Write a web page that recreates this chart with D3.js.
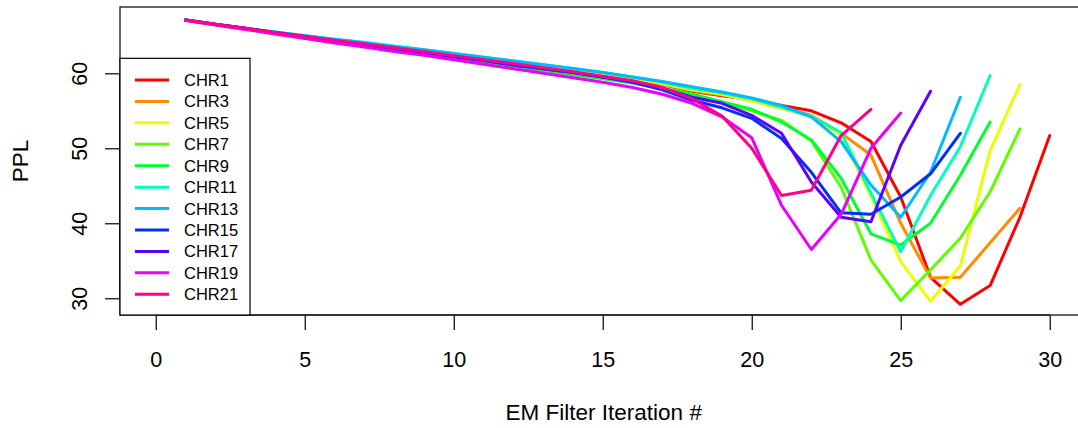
<!DOCTYPE html>
<html>
<head>
<meta charset="utf-8">
<script src="https://cdn.jsdelivr.net/npm/d3@7"></script>
<style>
  html, body { margin: 0; padding: 0; background: #fff; }
  svg { display: block; font-family: "Liberation Sans", Arial, Helvetica, sans-serif; }
</style>
</head>
<body>
<svg id="chart" width="1078" height="428"></svg>
<script>
// ---- data ----
const seriesNames = ["CHR1","CHR3","CHR5","CHR7","CHR9","CHR11","CHR13","CHR15","CHR17","CHR19","CHR21"];
const seriesColors = ["#FF0000","#FF8B00","#E8FF00","#5DFF00","#00FF2E","#00FFB9","#00B9FF","#002EFF","#5D00FF","#E800FF","#FF008B"];
// values start at iteration 1
const chr1  = [67.1,66.55,66.0,65.45,64.95,64.45,63.95,63.45,62.95,62.45,61.95,61.45,60.9,60.4,59.85,59.3,58.5,57.6,57.0,56.5,55.7,55.0,53.4,50.9,43.5,32.8,29.2,31.7,40.8,51.7];
const chr3  = [67.1,66.55,66.0,65.45,64.95,64.45,63.95,63.45,62.95,62.45,61.95,61.45,60.9,60.4,59.85,59.3,58.5,57.7,57.1,56.4,55.4,54.4,52.0,49.1,40.0,32.7,32.8,37.4,42.0];
const chr5  = [67.1,66.55,66.0,65.45,64.95,64.45,63.95,63.45,62.95,62.45,61.95,61.45,60.95,60.45,59.9,59.3,58.6,57.8,57.2,56.3,55.3,54.3,51.7,43.6,34.9,29.6,34.3,49.7,58.5];
const chr7  = [67.1,66.5,65.95,65.35,64.75,64.2,63.65,63.1,62.55,62.0,61.45,60.9,60.35,59.8,59.3,58.7,58.0,57.2,56.1,55.0,53.7,51.0,44.8,35.1,29.7,33.8,38.0,44.2,52.6];
const chr9  = [67.1,66.5,65.95,65.35,64.75,64.2,63.65,63.1,62.55,62.0,61.45,60.9,60.35,59.8,59.3,58.7,58.0,57.2,56.2,55.2,53.5,51.1,46.0,38.6,37.1,40.0,46.4,53.5];
const chr11 = [67.1,66.55,66.0,65.5,65.0,64.55,64.1,63.6,63.15,62.65,62.15,61.65,61.15,60.65,60.1,59.5,58.8,58.0,57.4,56.6,55.5,54.2,52.1,44.0,36.2,43.7,50.2,59.7];
const chr13 = [67.1,66.55,66.0,65.5,65.0,64.55,64.1,63.6,63.15,62.65,62.15,61.65,61.15,60.65,60.1,59.5,58.9,58.2,57.5,56.7,55.7,54.2,50.9,45.1,40.8,46.8,56.8];
const chr15 = [67.1,66.5,66.0,65.4,64.9,64.3,63.8,63.3,62.7,62.2,61.7,61.1,60.6,60.1,59.5,58.8,57.8,56.4,55.4,54.0,51.3,46.8,41.4,41.2,43.5,46.6,52.0];
const chr17 = [67.1,66.5,66.0,65.4,64.9,64.3,63.8,63.3,62.7,62.2,61.7,61.1,60.6,60.1,59.5,58.9,58.0,56.8,56.0,54.4,52.0,45.5,40.8,40.2,50.4,57.6];
const chr19 = [67.05,66.45,65.85,65.25,64.65,64.05,63.5,62.9,62.4,61.8,61.2,60.6,60.0,59.4,58.8,58.1,57.2,56.0,54.2,51.4,42.4,36.5,41.2,50.0,54.7];
const chr21 = [67.1,66.55,66.0,65.45,64.9,64.4,63.9,63.4,62.9,62.35,61.8,61.3,60.75,60.2,59.6,59.0,58.1,56.6,54.3,50.0,43.7,44.4,51.7,55.2];
const seriesValues = [chr1,chr3,chr5,chr7,chr9,chr11,chr13,chr15,chr17,chr19,chr21];
const xTicks = [0,5,10,15,20,25,30];
const yTicks = [30,40,50,60];
const xTitle = "EM Filter Iteration #";
const yTitle = "PPL";

// ---- layout ----
const svg = d3.select("#chart");
const L = 120, R = 1085.5, T = 7, B = 315;
const x = d3.scaleLinear().domain([-1.2, 31.2]).range([L, R]);
const y = d3.scaleLinear().domain([27.77, 68.84]).range([B, T]);

const axisFont = 21.5, titleFont = 22.5, legFont = 16.5;

// clip for plot region
svg.append("defs").append("clipPath").attr("id","plotclip")
  .append("rect").attr("x", L).attr("y", T).attr("width", R - L).attr("height", B - T);

// lines
const line = d3.line().x((d,i) => x(i + 1)).y(d => y(d));
const gLines = svg.append("g").attr("clip-path","url(#plotclip)");
seriesValues.forEach((vals, k) => {
  gLines.append("path")
    .attr("d", line(vals))
    .attr("fill","none")
    .attr("stroke", seriesColors[k])
    .attr("stroke-width", 3)
    .attr("stroke-linejoin","round")
    .attr("stroke-linecap","round");
});

// box
svg.append("rect").attr("x", L).attr("y", T).attr("width", R - L).attr("height", B - T)
  .attr("fill","none").attr("stroke","#000").attr("stroke-width",1.2);

// x axis
const xAxis = d3.axisBottom(x).tickValues(xTicks).tickSize(15).tickPadding(18).tickFormat(d3.format("d"));
const gx = svg.append("g").attr("transform", `translate(0,${B})`).call(xAxis);
gx.select(".domain").attr("d", `M${x(0)},0H${x(30)}`).attr("stroke","#000").attr("stroke-width",1.2);
gx.selectAll(".tick line").attr("stroke","#000").attr("stroke-width",1.2);
gx.selectAll(".tick text").attr("font-size", axisFont).attr("fill","#000")
  .attr("font-family","Liberation Sans, Arial, sans-serif").attr("dy", null).attr("y", 52);

// y axis
const yAxis = d3.axisLeft(y).tickValues(yTicks).tickSize(15).tickFormat(d3.format("d"));
const gy = svg.append("g").attr("transform", `translate(${L},0)`).call(yAxis);
gy.select(".domain").attr("d", `M0,${y(30)}V${y(60)}`).attr("stroke","#000").attr("stroke-width",1.2);
gy.selectAll(".tick line").attr("stroke","#000").attr("stroke-width",1.2);
gy.selectAll(".tick text")
  .attr("font-size", axisFont).attr("fill","#000")
  .attr("font-family","Liberation Sans, Arial, sans-serif")
  .attr("x", null).attr("dy", null)
  .attr("text-anchor","middle")
  .attr("transform","translate(-33,0) rotate(-90)");

// titles
svg.append("text").attr("x", (x(0)+x(30))/2 + 1).attr("y", 420)
  .attr("text-anchor","middle").attr("font-size", titleFont).attr("fill","#000").text(xTitle);
svg.append("text").attr("transform", `translate(28,${(T+B)/2}) rotate(-90)`)
  .attr("text-anchor","middle").attr("font-size", titleFont).attr("fill","#000").text(yTitle);

// legend
const lgX = L, lgY = 58.3, lgW = 130, lgH = B - 58.3;
const lg = svg.append("g");
lg.append("rect").attr("x", lgX).attr("y", lgY).attr("width", lgW).attr("height", lgH)
  .attr("fill","#fff").attr("stroke","#000").attr("stroke-width",1.2);
const rowY = d3.scaleLinear().domain([0, seriesNames.length - 1]).range([80, 294.3]);
seriesNames.forEach((nm, k) => {
  lg.append("line").attr("x1", 135).attr("x2", 169).attr("y1", rowY(k)).attr("y2", rowY(k))
    .attr("stroke", seriesColors[k]).attr("stroke-width", 3);
  lg.append("text").attr("x", 184).attr("y", rowY(k)).attr("dy","0.36em")
    .attr("font-size", legFont).attr("fill","#000").text(nm);
});
</script>
</body>
</html>
